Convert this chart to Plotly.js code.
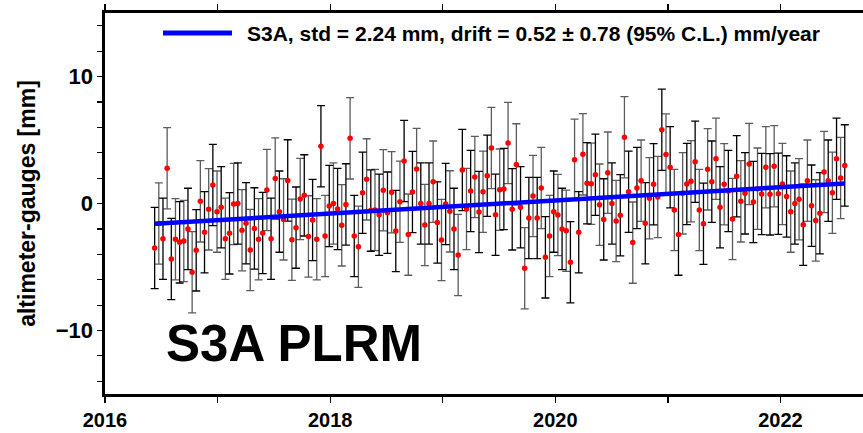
<!DOCTYPE html>
<html>
<head>
<meta charset="utf-8">
<script src="https://cdn.plot.ly/plotly-3.0.1.min.js"></script>
<style>html,body{margin:0;padding:0;background:#fff;}#chart{width:863px;height:433px;}</style>
</head>
<body>
<div id="chart"></div>
<script>
// Time of each altimeter-gauge comparison (decimal year)
var times = [
2016.441,2016.478,2016.515,2016.552,2016.589,2016.626,2016.663,2016.700,2016.737,2016.774,
2016.810,2016.847,2016.884,2016.921,2016.958,2016.995,2017.032,2017.069,2017.106,2017.143,
2017.180,2017.217,2017.253,2017.290,2017.327,2017.364,2017.401,2017.438,2017.475,2017.512,
2017.549,2017.586,2017.623,2017.660,2017.697,2017.734,2017.770,2017.807,2017.844,2017.881,
2017.918,2017.955,2017.992,2018.029,2018.066,2018.103,2018.140,2018.177,2018.214,2018.251,
2018.288,2018.324,2018.361,2018.398,2018.435,2018.472,2018.509,2018.546,2018.583,2018.620,
2018.657,2018.694,2018.731,2018.768,2018.805,2018.841,2018.878,2018.915,2018.952,2018.989,
2019.026,2019.063,2019.100,2019.137,2019.174,2019.211,2019.248,2019.285,2019.322,2019.358,
2019.395,2019.432,2019.469,2019.506,2019.543,2019.580,2019.617,2019.654,2019.691,2019.728,
2019.765,2019.802,2019.839,2019.875,2019.912,2019.949,2019.986,2020.023,2020.060,2020.097,
2020.134,2020.171,2020.208,2020.245,2020.282,2020.319,2020.356,2020.393,2020.430,2020.466,
2020.503,2020.540,2020.577,2020.614,2020.651,2020.688,2020.725,2020.762,2020.799,2020.836,
2020.873,2020.910,2020.946,2020.983,2021.020,2021.057,2021.094,2021.131,2021.168,2021.205,
2021.242,2021.279,2021.316,2021.353,2021.390,2021.427,2021.463,2021.500,2021.537,2021.574,
2021.611,2021.648,2021.685,2021.722,2021.759,2021.796,2021.833,2021.870,2021.907,2021.944,
2021.981,2022.017,2022.054,2022.091,2022.128,2022.165,2022.202,2022.239,2022.276,2022.313,
2022.350,2022.387,2022.424,2022.461,2022.498,2022.534,2022.571
];
// altimeter minus gauges difference [mm]
var diffs = [
-3.5,-1.57,-2.77,2.77,-4.37,-2.82,-3.06,-2.95,-2.0,-5.42,
-3.69,0.17,-2.27,-0.46,1.46,-0.64,-0.3,-2.77,-2.35,-0.04,
0.0,-2.11,-1.56,-3.66,-1.96,-2.82,-2.32,1.06,-2.77,1.96,
-0.64,-1.25,1.82,-2.85,-1.9,0.35,0.64,-2.59,-1.3,-2.82,
4.51,-2.56,-0.2,0.0,-0.43,-1.72,-0.07,5.13,-2.56,-3.4,
0.85,1.9,-0.56,-0.51,-0.88,1.04,-0.72,0.88,-2.17,0.14,
3.35,-2.45,0.91,2.72,0.0,-1.69,0.0,1.72,-1.5,-2.87,
-0.04,-0.62,-2.0,-4.06,2.64,-0.43,0.98,2.09,-0.67,0.93,
2.19,4.37,-0.88,1.09,1.14,4.76,-0.46,3.08,-0.3,-5.1,
-1.14,0.59,-1.14,1.22,-4.24,-2.56,-0.64,-0.91,-2.0,-2.14,
-4.63,3.45,-2.27,3.87,1.59,1.56,2.27,-0.09,-1.25,2.43,
0.0,-1.38,-0.93,5.21,0.93,-3.08,1.22,1.8,-1.56,0.41,
1.51,0.51,5.81,3.85,2.85,-0.51,-2.45,0.8,1.54,1.75,
3.29,-0.51,-1.59,2.69,1.72,3.53,-0.3,1.51,0.98,-1.22,
2.14,0.17,0.8,3.11,0.12,1.17,0.75,2.85,0.72,2.93,
0.77,1.54,0.56,-0.64,0.0,0.33,-1.67,1.8,-0.17,-1.33,
-0.77,2.48,1.8,0.85,3.53,2.01,3.0
];
var errHalf = 3.2;               // error bar half-length [mm]
var trendX = [2016.441, 2022.571]; // fitted drift line ends
var trendY = [-1.60, 1.58];
var legendText = 'S3A, std = 2.24 mm, drift = 0.52 \u00b1 0.78 (95% C.L.) mm/year';
var panelLabel = 'S3A PLRM';
var xTickVals = [2016, 2018, 2020, 2022];

var xa = [], ya = [], xb = [], yb = [];
for (var i = 0; i < times.length; i++) {
  if (i % 2 === 0) { xa.push(times[i]); ya.push(diffs[i]); }
  else { xb.push(times[i]); yb.push(diffs[i]); }
}

var FONT = 'Liberation Sans, Arial, Helvetica, sans-serif';

var traces = [
  { x: xb, y: yb, type: 'scatter', mode: 'markers', marker: {size: 1, opacity: 0},
    error_y: {type: 'constant', value: errHalf, color: '#5c5c5c', thickness: 1.3, width: 4},
    hoverinfo: 'skip', showlegend: false },
  { x: xa, y: ya, type: 'scatter', mode: 'markers', marker: {size: 1, opacity: 0},
    error_y: {type: 'constant', value: errHalf, color: '#000000', thickness: 1.3, width: 4},
    hoverinfo: 'skip', showlegend: false },
  { x: times, y: diffs, type: 'scatter', mode: 'markers',
    marker: {color: '#ff0000', size: 5.5}, showlegend: false },
  { x: trendX, y: trendY, type: 'scatter', mode: 'lines',
    line: {color: '#0000ff', width: 4.5}, showlegend: false }
];

var layout = {
  width: 863, height: 433,
  margin: {l: 105, r: 0, t: 13, b: 39},
  paper_bgcolor: '#ffffff', plot_bgcolor: '#ffffff',
  font: {family: FONT, color: '#000', size: 18},
  showlegend: false,
  xaxis: {
    range: [2016, 2022.733],
    tickvals: xTickVals, ticktext: xTickVals.map(String),
    ticks: 'outside', ticklen: 6, tickwidth: 1.2, tickcolor: '#000',
    minor: {dtick: 1, tick0: 2016, ticks: 'outside', ticklen: 6, tickwidth: 1.2, tickcolor: '#000', showgrid: false},
    showline: true, linewidth: 2.6, linecolor: '#000', mirror: 'ticks',
    showgrid: false, zeroline: false,
    tickfont: {family: FONT, size: 20, weight: 'bold', color: '#000'}
  },
  yaxis: {
    range: [-15, 15],
    dtick: 10, tick0: 0,
    ticks: 'outside', ticklen: 5, tickwidth: 1.2, tickcolor: '#000',
    minor: {dtick: 2, ticks: 'outside', ticklen: 5, tickwidth: 1.2, tickcolor: '#000', showgrid: false},
    showline: true, linewidth: 2.6, linecolor: '#000', mirror: false,
    showgrid: false, zeroline: false,
    tickfont: {family: FONT, size: 22, weight: 'bold', color: '#000'},
    title: {text: 'altimeter-gauges [mm]', font: {family: FONT, size: 23, weight: 'bold', color: '#000'}, standoff: 14}
  },
  shapes: [
    {type: 'line', xref: 'paper', yref: 'paper', x0: 0.0765, x1: 0.1675, y0: 0.9475, y1: 0.9475,
     line: {color: '#0000ff', width: 5}}
  ],
  annotations: [
    {xref: 'paper', yref: 'paper', x: 0.1847, y: 0.9475, xanchor: 'left', yanchor: 'middle',
     text: legendText, showarrow: false,
     font: {family: FONT, size: 21, weight: 'bold', color: '#000'}},
    {xref: 'paper', yref: 'paper', x: 0.078, y: 0.1325, xanchor: 'left', yanchor: 'middle',
     text: panelLabel, showarrow: false,
     font: {family: FONT, size: 51, weight: 'bold', color: '#000'}}
  ]
};

Plotly.newPlot('chart', traces, layout, {displayModeBar: false, staticPlot: true});
</script>
</body>
</html>
